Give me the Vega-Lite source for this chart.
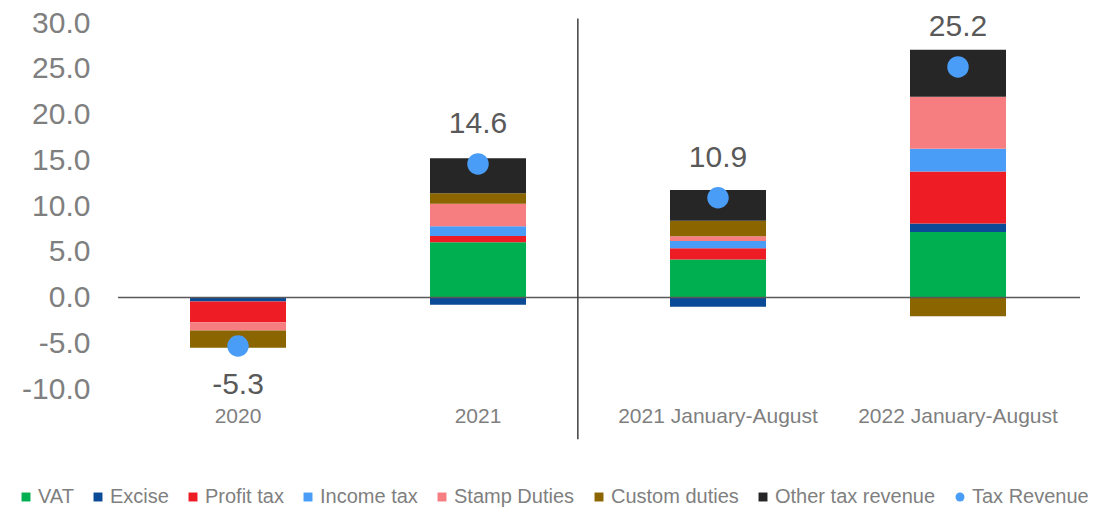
{
  "$schema": "https://vega.github.io/schema/vega-lite/v6.json",
  "width": 960,
  "height": 366,
  "autosize": {"type": "none"},
  "padding": {"left": 118, "top": 23, "right": 29, "bottom": 120},
  "background": "white",
  "config": {"view": {"stroke": null}, "font": "Liberation Sans"},
  "datasets": {
    "parts": [
      {"period": "2020", "component": "Excise", "k": 2, "value": -0.45},
      {"period": "2020", "component": "Profit tax", "k": 3, "value": -2.25},
      {"period": "2020", "component": "Stamp Duties", "k": 5, "value": -0.9},
      {"period": "2020", "component": "Custom duties", "k": 6, "value": -1.9},
      {"period": "2021", "component": "VAT", "k": 1, "value": 6.03},
      {"period": "2021", "component": "Excise", "k": 2, "value": -0.8},
      {"period": "2021", "component": "Profit tax", "k": 3, "value": 0.7},
      {"period": "2021", "component": "Income tax", "k": 4, "value": 1.05},
      {"period": "2021", "component": "Stamp Duties", "k": 5, "value": 2.47},
      {"period": "2021", "component": "Custom duties", "k": 6, "value": 1.15},
      {"period": "2021", "component": "Other tax revenue", "k": 7, "value": 3.83},
      {"period": "2021 January-August", "component": "VAT", "k": 1, "value": 4.14},
      {"period": "2021 January-August", "component": "Excise", "k": 2, "value": -1.0},
      {"period": "2021 January-August", "component": "Profit tax", "k": 3, "value": 1.24},
      {"period": "2021 January-August", "component": "Income tax", "k": 4, "value": 0.8},
      {"period": "2021 January-August", "component": "Stamp Duties", "k": 5, "value": 0.51},
      {"period": "2021 January-August", "component": "Custom duties", "k": 6, "value": 1.71},
      {"period": "2021 January-August", "component": "Other tax revenue", "k": 7, "value": 3.34},
      {"period": "2022 January-August", "component": "VAT", "k": 1, "value": 7.16},
      {"period": "2022 January-August", "component": "Excise", "k": 2, "value": 0.94},
      {"period": "2022 January-August", "component": "Profit tax", "k": 3, "value": 5.67},
      {"period": "2022 January-August", "component": "Income tax", "k": 4, "value": 2.48},
      {"period": "2022 January-August", "component": "Stamp Duties", "k": 5, "value": 5.7},
      {"period": "2022 January-August", "component": "Custom duties", "k": 6, "value": -2.04},
      {"period": "2022 January-August", "component": "Other tax revenue", "k": 7, "value": 5.13}
    ],
    "revenue": [
      {"period": "2020", "revenue": -5.3, "label": "-5.3"},
      {"period": "2021", "revenue": 14.6, "label": "14.6"},
      {"period": "2021 January-August", "revenue": 10.9, "label": "10.9"},
      {"period": "2022 January-August", "revenue": 25.2, "label": "25.2"}
    ]
  },
  "encoding": {
    "x": {
      "field": "period",
      "type": "nominal",
      "sort": ["2020", "2021", "2021 January-August", "2022 January-August"],
      "scale": {"paddingInner": 0.6, "paddingOuter": 0.3},
      "axis": {
        "title": null,
        "labelAngle": 0,
        "domain": false,
        "ticks": false,
        "labelFontSize": 21,
        "labelColor": "#7f7f7f",
        "labelPadding": 16,
        "labelLimit": 0
      }
    }
  },
  "layer": [
    {
      "data": {"name": "parts"},
      "mark": {"type": "bar"},
      "encoding": {
        "y": {
          "field": "value",
          "type": "quantitative",
          "stack": "zero",
          "scale": {"domain": [-10, 30], "nice": false},
          "axis": {
            "title": null,
            "values": [-10, -5, 0, 5, 10, 15, 20, 25, 30],
            "format": ".1f",
            "labelExpr": "replace(datum.label, '\u2212', '-')",
            "grid": false,
            "domain": false,
            "ticks": false,
            "labelFontSize": 30,
            "labelColor": "#7f7f7f",
            "labelPadding": 28
          }
        },
        "order": {"field": "k", "type": "quantitative"},
        "color": {
          "field": "component",
          "type": "nominal",
          "scale": {
            "domain": ["VAT", "Excise", "Profit tax", "Income tax", "Stamp Duties", "Custom duties", "Other tax revenue", "Tax Revenue"],
            "range": ["#00B050", "#0B4A96", "#EE1D25", "#4A9DF7", "#F77E80", "#8A6500", "#262626", "#4A9DF7"]
          },
          "legend": {
            "orient": "none",
            "legendX": -102,
            "legendY": 464,
            "direction": "horizontal",
            "title": null,
            "symbolType": "square",
            "symbolSize": 80,
            "labelFontSize": 20,
            "labelColor": "#7f7f7f",
            "labelLimit": 0,
            "columnPadding": 14,
            "labelOffset": 2,
            "encode": {
              "symbols": {
                "update": {
                  "shape": {"signal": "datum.value === 'Tax Revenue' ? 'circle' : 'square'"}
                }
              }
            }
          }
        }
      }
    },
    {
      "data": {"values": [{}]},
      "mark": {"type": "rule", "color": "#595959", "strokeWidth": 1.5},
      "encoding": {"y": {"datum": 0}, "x": {"value": 0}, "x2": {"value": 962}}
    },
    {
      "data": {"values": [{}]},
      "mark": {"type": "rule", "color": "#404040", "strokeWidth": 1.5},
      "encoding": {
        "x": {"datum": "2021", "bandPosition": 1.54},
        "y": {"datum": 30.5},
        "y2": {"datum": -15.5}
      }
    },
    {
      "data": {"name": "revenue"},
      "mark": {"type": "point", "filled": true, "size": 460, "opacity": 1, "shape": "circle"},
      "encoding": {
        "y": {"field": "revenue", "type": "quantitative"},
        "color": {"datum": "Tax Revenue"}
      }
    },
    {
      "data": {"name": "revenue"},
      "transform": [{"filter": "datum.revenue > 0"}],
      "mark": {"type": "text", "fontSize": 30, "color": "#595959", "dy": -40, "baseline": "middle"},
      "encoding": {
        "y": {"field": "revenue", "type": "quantitative"},
        "text": {"field": "label", "type": "nominal"}
      }
    },
    {
      "data": {"name": "revenue"},
      "transform": [{"filter": "datum.revenue < 0"}],
      "mark": {"type": "text", "fontSize": 30, "color": "#595959", "dy": 39, "baseline": "middle"},
      "encoding": {
        "y": {"field": "revenue", "type": "quantitative"},
        "text": {"field": "label", "type": "nominal"}
      }
    }
  ]
}
